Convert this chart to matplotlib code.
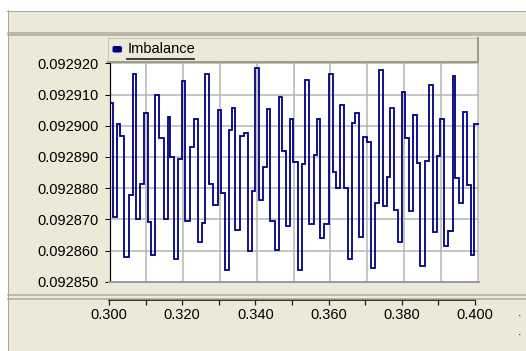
import matplotlib
matplotlib.use("Agg")
import matplotlib.pyplot as plt
from matplotlib.patches import Rectangle, FancyBboxPatch
from matplotlib.lines import Line2D
from matplotlib.ticker import MultipleLocator, FormatStrFormatter

# step start times and values of the Imbalance series
series_name = "Imbalance"
t = [0.30000, 0.30090, 0.30199, 0.30291, 0.30400, 0.30517, 0.30634, 0.30707,
     0.30816, 0.30933, 0.31042, 0.31124, 0.31233, 0.31333, 0.31469, 0.31578,
     0.31633, 0.31761, 0.31869, 0.31978, 0.32049, 0.32177, 0.32294, 0.32395,
     0.32503, 0.32593, 0.32702, 0.32822, 0.32939, 0.33020, 0.33129, 0.33238,
     0.33339, 0.33420, 0.33546, 0.33646, 0.33755, 0.33872, 0.33954, 0.34063,
     0.34171, 0.34280, 0.34373, 0.34498, 0.34599, 0.34699, 0.34808, 0.34917,
     0.34988, 0.35116, 0.35233, 0.35306, 0.35415, 0.35543, 0.35633, 0.35722,
     0.35831, 0.35959, 0.36060, 0.36141, 0.36250, 0.36359, 0.36476, 0.36593,
     0.36659, 0.36767, 0.36893, 0.37001, 0.37094, 0.37203, 0.37312, 0.37420,
     0.37529, 0.37627, 0.37720, 0.37837, 0.37946, 0.38019, 0.38136, 0.38253,
     0.38348, 0.38435, 0.38563, 0.38672, 0.38781, 0.38890, 0.38980, 0.39088,
     0.39197, 0.39325, 0.39396, 0.39505, 0.39614, 0.39722, 0.39815, 0.39913]
t_end = 0.40027
imbalance = [0.0929072, 0.0928706, 0.0929005, 0.0928968, 0.0928579, 0.0928778, 0.0929165, 0.0928701,
             0.0928812, 0.0929040, 0.0928690, 0.0928586, 0.0929097, 0.0928960, 0.0928701, 0.0929027,
             0.0928901, 0.0928572, 0.0928894, 0.0929142, 0.0928696, 0.0928933, 0.0929021, 0.0928627,
             0.0928688, 0.0929165, 0.0928812, 0.0928746, 0.0929051, 0.0928784, 0.0928537, 0.0928987,
             0.0929058, 0.0928666, 0.0928967, 0.0928976, 0.0928599, 0.0928791, 0.0929186, 0.0928762,
             0.0928867, 0.0929053, 0.0928696, 0.0928602, 0.0929093, 0.0928919, 0.0928680, 0.0929022,
             0.0928885, 0.0928537, 0.0928877, 0.0929147, 0.0928684, 0.0928907, 0.0929022, 0.0928639,
             0.0928685, 0.0929165, 0.0928853, 0.0928800, 0.0929067, 0.0928800, 0.0928572, 0.0929008,
             0.0929042, 0.0928643, 0.0928964, 0.0928949, 0.0928545, 0.0928752, 0.0929177, 0.0928743,
             0.0928835, 0.0929056, 0.0928730, 0.0928627, 0.0929107, 0.0928960, 0.0928728, 0.0929035,
             0.0928880, 0.0928549, 0.0928888, 0.0929129, 0.0928658, 0.0928902, 0.0929022, 0.0928613,
             0.0928663, 0.0929160, 0.0928832, 0.0928751, 0.0929045, 0.0928810, 0.0928586, 0.0929006]

y_min, y_max, y_step = 0.092850, 0.092920, 0.00001
x_min, x_max = 0.300, 0.400

W, H = 526, 351
BEIGE = '#ECE9D8'
FRAME = '#ACA899'
NAVY = '#000080'
GRID = '#B4B4B4'
PX = 0.72  # one pixel in points

plt.rcParams['font.family'] = ['Liberation Sans', 'DejaVu Sans']
fig = plt.figure(figsize=(W / 100, H / 100), dpi=100, facecolor='white')


def fx(px):
    return px / W


def fy(py):
    return 1 - py / H


def box(x0, y0, x1, y1, color, edge='none', z=0):
    fig.add_artist(Rectangle((fx(x0), fy(y1)), fx(x1) - fx(x0), fy(y0) - fy(y1),
                             transform=fig.transFigure, facecolor=color,
                             edgecolor=edge, lw=PX, zorder=z))


def hline(y, x0, x1, color, lw=1.0, z=1):
    fig.add_artist(Line2D([fx(x0), fx(x1)], [fy(y), fy(y)], color=color,
                          lw=lw * PX, transform=fig.transFigure, zorder=z))


def vline(x, y0, y1, color, lw=1.0, z=1):
    fig.add_artist(Line2D([fx(x), fx(x)], [fy(y0), fy(y1)], color=color,
                          lw=lw * PX, transform=fig.transFigure, zorder=z))


# window panels
box(8, 11, W, H, BEIGE)
hline(10.5, 7, W, FRAME)
vline(7.5, 10, H, FRAME)
hline(32.5, 8, W, FRAME, 1.5)
hline(35.2, 8, W, FRAME, 1.5)
hline(294.5, 8, W, FRAME, 1.5)
hline(298.6, 8, W, FRAME, 1.5)

# legend strip
box(108, 38, 478, 62, BEIGE, edge='#C8C4B4', z=2)
hline(61.5, 108, 478, '#A09C8C', 2, z=3)
vline(477.5, 38, 62, '#A09C8C', 2, z=3)
fig.add_artist(FancyBboxPatch((fx(112.5), fy(52.5)), fx(9.5), fy(0) - fy(6.5),
                              boxstyle='round,pad=0,rounding_size=0.004',
                              transform=fig.transFigure, facecolor=NAVY,
                              edgecolor='none', zorder=4))
fig.text(fx(127.5), fy(49), series_name, fontsize=10.5, va='center', ha='left',
         color='black', zorder=4)
hline(58.8, 127, 194, '#2a2a2a', 1.8, z=4)

# main plot
ax = fig.add_axes([fx(109.5), fy(281.7), fx(479) - fx(109.5), fy(63.3) - fy(281.7)])
ax.set_facecolor('white')
ax.step(t + [t_end], imbalance + [imbalance[-1]], where='post', color=NAVY,
        lw=1.3, solid_joinstyle='miter', zorder=3)
ax.set_xlim(0.29999, 0.4004)
ax.set_ylim(y_min, y_max)
ax.xaxis.set_major_locator(MultipleLocator(0.01))
ax.yaxis.set_major_locator(MultipleLocator(y_step))
ax.yaxis.set_major_formatter(FormatStrFormatter('%.6f'))
ax.grid(True, color=GRID, lw=1.5 * PX, zorder=1)
ax.tick_params(axis='x', length=0, labelbottom=False)
ax.tick_params(axis='y', length=5 * PX, width=PX, color='black', labelsize=10.5, pad=4.5)
for s in ('top', 'right'):
    ax.spines[s].set_visible(False)
ax.spines['left'].set_color('black')
ax.spines['left'].set_linewidth(1.2 * PX)
ax.spines['bottom'].set_color('#9a9a9a')
ax.spines['bottom'].set_linewidth(2 * PX)
ax.set_axisbelow(True)

# separate x axis panel
ax2 = fig.add_axes([fx(109), fy(300), fx(475) - fx(109), 0.0005])
ax2.patch.set_visible(False)
ax2.set_xlim(x_min, x_max)
ax2.set_yticks([])
for s in ('top', 'left', 'right'):
    ax2.spines[s].set_visible(False)
ax2.spines['bottom'].set_linewidth(1.8 * PX)
ax2.spines['bottom'].set_color('#202020')
ax2.xaxis.set_major_locator(MultipleLocator(0.02))
ax2.xaxis.set_minor_locator(MultipleLocator(0.01))
ax2.xaxis.set_major_formatter(FormatStrFormatter('%.3f'))
ax2.tick_params(axis='x', which='both', length=5 * PX, width=1.3 * PX, color='#202020',
                labelsize=10.5, pad=2.5)

# clipped marks at the right edge
fig.text(fx(517.5), fy(316), '.', fontsize=9, color='black')
fig.text(fx(517.5), fy(335), '.', fontsize=9, color='black')

fig.savefig('out.png', dpi=100, facecolor='white')
